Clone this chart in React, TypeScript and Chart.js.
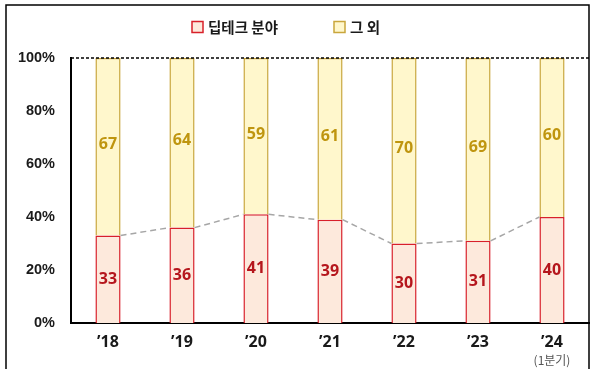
import { useEffect, useRef } from "react";
import { Chart, registerables } from "chart.js";

Chart.register(...registerables);

// Share of deals by year (%)
const categories = ["’18", "’19", "’20", "’21", "’22", "’23", "’24"];
const deepTech = [33, 36, 41, 39, 30, 31, 40];
const others = [67, 64, 59, 61, 70, 69, 60];
const seriesNames = ["딥테크 분야", "그 외"];
const yTickMax = 100;
const yTickStep = 20;
const lastNote = "(1분기)";

const RED_FILL = "#fde9dc";
const RED_LINE = "#d8202a";
const RED_TEXT = "#b5161d";
const GOLD_FILL = "#fff7cc";
const GOLD_LINE = "#c9a63c";
const GOLD_TEXT = "#bf950f";

const LATIN = "'Open Sans', 'Noto Sans CJK KR', sans-serif";
const KR = "'Noto Sans CJK KR', 'Noto Sans', sans-serif";

const framePlugin = {
  id: "frame",
  beforeDraw(chart: any) {
    const { ctx, width, height } = chart;
    ctx.save();
    ctx.fillStyle = "#ffffff";
    ctx.fillRect(0, 0, width, height);
    ctx.strokeStyle = "#000000";
    ctx.lineWidth = 1.5;
    ctx.beginPath();
    ctx.moveTo(6, height + 5);
    ctx.lineTo(6, 5);
    ctx.lineTo(589, 5);
    ctx.lineTo(589, height + 5);
    ctx.stroke();
    ctx.restore();
  },
  afterDraw(chart: any) {
    const { ctx, chartArea } = chart;
    ctx.save();
    // dashed 100% line across the top of the plot
    ctx.strokeStyle = "#000000";
    ctx.lineWidth = 1.5;
    ctx.setLineDash([3, 2]);
    ctx.beginPath();
    ctx.moveTo(chartArea.left, chartArea.top);
    ctx.lineTo(chartArea.right, chartArea.top);
    ctx.stroke();
    ctx.restore();
  },
};

const legendPlugin = {
  id: "customLegend",
  afterDraw(chart: any) {
    const { ctx } = chart;
    const items = [
      { x: 192, text: seriesNames[0], fill: RED_FILL, line: RED_LINE },
      { x: 334, text: seriesNames[1], fill: GOLD_FILL, line: GOLD_LINE },
    ];
    ctx.save();
    items.forEach((it) => {
      ctx.fillStyle = it.fill;
      ctx.fillRect(it.x, 21.5, 11, 11);
      ctx.strokeStyle = it.line;
      ctx.lineWidth = 1.5;
      ctx.strokeRect(it.x, 21.5, 11, 11);
      ctx.fillStyle = "#1a1a1a";
      ctx.font = `bold 14.5px ${KR}`;
      ctx.textAlign = "left";
      ctx.textBaseline = "middle";
      ctx.fillText(it.text, it.x + 16, 27.5);
    });
    ctx.restore();
  },
};

const connectorPlugin = {
  id: "connector",
  afterDatasetsDraw(chart: any) {
    const { ctx } = chart;
    const bars = chart.getDatasetMeta(0).data;
    ctx.save();
    ctx.strokeStyle = "#a6a6a6";
    ctx.lineWidth = 1.5;
    ctx.setLineDash([6, 4]);
    for (let i = 0; i < bars.length - 1; i++) {
      const a = bars[i];
      const b = bars[i + 1];
      ctx.beginPath();
      ctx.moveTo(a.x + a.width / 2, a.y);
      ctx.lineTo(b.x - b.width / 2, b.y);
      ctx.stroke();
    }
    ctx.restore();
  },
};

const valueLabelPlugin = {
  id: "valueLabels",
  afterDatasetsDraw(chart: any) {
    const { ctx } = chart;
    ctx.save();
    ctx.font = `bold 16px ${LATIN}`;
    ctx.textAlign = "center";
    ctx.textBaseline = "middle";
    chart.data.datasets.forEach((ds: any, di: number) => {
      const meta = chart.getDatasetMeta(di);
      ctx.fillStyle = di === 0 ? RED_TEXT : GOLD_TEXT;
      meta.data.forEach((bar: any, i: number) => {
        const mid = (bar.y + bar.base) / 2;
        ctx.fillText(String(ds.data[i]), bar.x, mid - (di === 1 ? 2 : 0));
      });
    });
    // note under the last category
    const xScale = chart.scales.x;
    const lastX = xScale.getPixelForValue(categories.length - 1);
    ctx.font = `12px ${KR}`;
    ctx.fillStyle = "#555555";
    ctx.fillText(lastNote, lastX, 360);
    ctx.restore();
  },
};

export default function App() {
  const canvasRef = useRef<HTMLCanvasElement | null>(null);

  useEffect(() => {
    if (!canvasRef.current) return;
    const chart = new Chart(canvasRef.current, {
      type: "bar",
      data: {
        labels: categories,
        datasets: [
          {
            label: seriesNames[0],
            data: deepTech,
            backgroundColor: RED_FILL,
            borderColor: RED_LINE,
            borderWidth: 1.5,
            barPercentage: 0.34,
            categoryPercentage: 1,
          },
          {
            label: seriesNames[1],
            data: others,
            backgroundColor: GOLD_FILL,
            borderColor: GOLD_LINE,
            borderWidth: 1.5,
            barPercentage: 0.34,
            categoryPercentage: 1,
          },
        ],
      },
      options: {
        responsive: false,
        animation: false,
        layout: { padding: { top: 58, right: 4, left: 0, bottom: 0 } },
        plugins: {
          legend: { display: false },
          tooltip: { enabled: false },
          title: { display: false },
        },
        scales: {
          x: {
            stacked: true,
            grid: { display: false, drawTicks: false },
            border: { display: true, color: "#000000", width: 2 },
            ticks: {
              padding: 10,
              color: "#1a1a1a",
              font: { family: LATIN, size: 16, weight: "bold" },
            },
            afterFit: (scale: any) => {
              scale.height = 46;
            },
          },
          y: {
            stacked: true,
            min: 0,
            max: yTickMax,
            grid: { display: false, drawTicks: false },
            border: { display: true, color: "#000000", width: 2 },
            ticks: {
              stepSize: yTickStep,
              padding: 16,
              color: "#1a1a1a",
              font: { family: "'Liberation Sans', Arial, sans-serif", size: 14.5, weight: "bold" },
              callback: (v: any) => `${v}%`,
            },
            afterFit: (scale: any) => {
              scale.width = 71;
            },
          },
        },
      },
      plugins: [framePlugin, connectorPlugin, valueLabelPlugin, legendPlugin],
    });
    return () => chart.destroy();
  }, []);

  return (
    <div style={{ position: "fixed", left: 0, top: 0, width: 593, height: 369 }}>
      <canvas ref={canvasRef} width={593} height={369} />
    </div>
  );
}
